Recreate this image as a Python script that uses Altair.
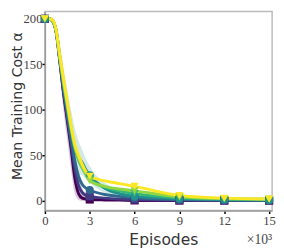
import altair as alt
import pandas as pd

# x positions (thousands of episodes)
t = [0, 0.25, 0.5, 0.75, 1.0, 1.25, 1.5, 1.75, 2.0, 2.25, 2.5, 2.75, 3, 4, 5, 6, 9, 12, 15]
marker_t = [0, 3, 6, 9, 12, 15]

s1 = [200, 200, 198, 186, 153, 118, 88, 58, 25, 8, 3, 2, 1.5, 1, 0.8, 0.5, 0.3, 0.3, 0.3]
s2 = [200, 200, 198, 186, 154, 120, 92, 64, 36, 17, 9, 6, 5, 3, 2, 1.5, 0.8, 0.5, 0.5]
s3 = [200, 200, 198, 186, 155, 123, 96, 69, 44, 27, 18, 14, 12, 7, 5, 3.5, 1.5, 1, 0.8]
s4 = [200, 200, 198, 187, 158, 128, 102, 78, 58, 48, 42, 34, 28, 14, 8, 5, 2.5, 1.5, 1]
s5 = [200, 200, 198, 187, 157, 129, 104, 79, 58, 45, 36, 29, 24, 15, 11, 8, 3.5, 2, 1.5]
s6 = [200, 200, 198, 187, 157, 130, 106, 81, 60, 47, 37, 29, 22, 16, 13, 11, 4.5, 2.5, 2]
s7 = [200, 200, 199, 188, 160, 134, 108, 83, 62, 50, 40, 32, 27, 22, 19, 16, 6, 3, 2]

band1_hi = [200, 200, 199, 192, 168, 138, 110, 84, 56, 30, 14, 8, 6, 4, 3, 2, 1, 1, 1]
band1_lo = [200, 200, 196, 178, 138, 98, 66, 34, 8, 1, 0, 0, 0, 0, 0, 0, 0, 0, 0]
band4_hi = [200, 200, 199, 193, 172, 146, 122, 100, 80, 66, 56, 46, 38, 20, 12, 8, 3.5, 2, 1.5]
band4_lo = [200, 200, 196, 180, 144, 110, 82, 56, 36, 30, 28, 24, 20, 9, 5, 3, 1.5, 1, 0.5]

series_names = ["s1", "s2", "s3", "s4", "s5", "s6", "s7"]
series_vals = [s1, s2, s3, s4, s5, s6, s7]
colors = ["#440154", "#443983", "#31688e", "#21918c", "#35b779", "#90d743", "#fde725"]
shapes = ["square", "square", "circle", "circle", "triangle-down", "triangle-down", "triangle-down"]

x_ticks = [0, 3, 6, 9, 12, 15]
y_ticks = [0, 25, 50, 75, 100, 125, 150, 175, 200]
exponent_label = ["×10³"]

rows = []
for i, (name, vals) in enumerate(zip(series_names, series_vals)):
    for tt, v in zip(t, vals):
        rows.append({"t": tt, "v": v, "s": name, "order": i})
df = pd.DataFrame(rows)
dfm = df[df["t"].isin(marker_t)]

brows = []
for name, lo, hi in [("s1", band1_lo, band1_hi), ("s4", band4_lo, band4_hi)]:
    for tt, a, b in zip(t, lo, hi):
        brows.append({"t": tt, "lo": a, "hi": b, "s": name})
dfb = pd.DataFrame(brows)

xscale = alt.Scale(domain=[0, 15.2], nice=False, zero=False)
yscale = alt.Scale(domain=[-10.67, 208], nice=False, zero=False)
cscale = alt.Scale(domain=series_names, range=colors)
shscale = alt.Scale(domain=series_names, range=shapes)

xax = alt.Axis(values=x_ticks, format="d", title="Episodes", grid=False,
               titleX=122, titleY=35, titleBaseline="alphabetic",
               titleFont="DejaVu Sans", titleFontSize=16, titleFontWeight="normal",
               titleColor="#333333",
               labelFont="Liberation Serif", labelFontSize=13, labelColor="#444444",
               labelPadding=1, tickSize=3, tickColor="black", tickWidth=1.5,
               domainColor="#9a9a9a", domainWidth=1.5, labelFlush=False)
yax = alt.Axis(values=y_ticks, format="d", title="Mean Training Cost α", grid=False,
               titleX=-24, titleY=97, titleBaseline="alphabetic", titleAngle=270,
               titleFont="DejaVu Sans", titleFontSize=14.5, titleFontWeight="normal",
               titleColor="#333333",
               labelFont="Liberation Serif", labelFontSize=13, labelColor="#444444",
               labelPadding=0, tickSize=3, tickColor="black", tickWidth=1.5,
               domainColor="#9a9a9a", domainWidth=1.5)

bands = alt.Chart(dfb).mark_area(opacity=0.2, interpolate="monotone").encode(
    x=alt.X("t:Q", scale=xscale, axis=xax),
    y=alt.Y("lo:Q", scale=yscale, axis=yax),
    y2="hi:Q",
    color=alt.Color("s:N", scale=cscale, legend=None),
)

lines = alt.Chart(df).mark_line(strokeWidth=3, interpolate="monotone").encode(
    x=alt.X("t:Q", scale=xscale),
    y=alt.Y("v:Q", scale=yscale),
    color=alt.Color("s:N", scale=cscale, legend=None),
    order=alt.Order("order:Q"),
    detail="s:N",
)

points = alt.Chart(dfm).mark_point(filled=True, opacity=1, size=70).encode(
    x=alt.X("t:Q", scale=xscale),
    y=alt.Y("v:Q", scale=yscale),
    color=alt.Color("s:N", scale=cscale, legend=None),
    shape=alt.Shape("s:N", scale=shscale, legend=None),
    order=alt.Order("order:Q"),
)

expo = alt.Chart(pd.DataFrame({"lab": exponent_label})).mark_text(
    font="Liberation Serif", fontSize=14, color="#444444", baseline="alphabetic", align="center"
).encode(text="lab:N", x=alt.value(221), y=alt.value(239))

chart = alt.layer(bands, lines, points, expo).properties(
    width=234, height=205,
    autosize=alt.AutoSizeParams(type="none"),
    padding={"left": 38, "top": 0, "right": 4, "bottom": 39},
).configure_view(stroke="#bbbbbb", strokeWidth=1.5)

chart.save("out.html", embed_options={"renderer": "svg", "actions": False})
